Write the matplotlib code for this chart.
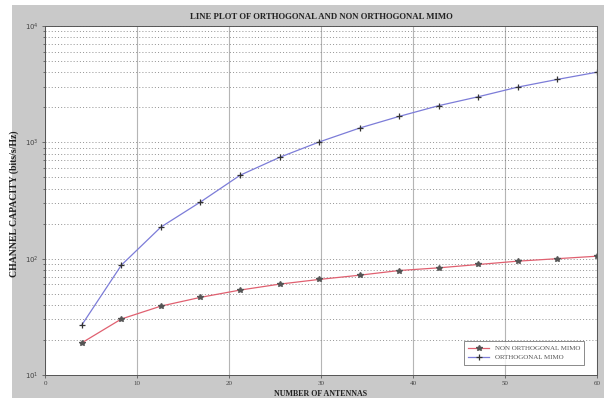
import matplotlib.pyplot as plt
import matplotlib.patches as mpatches
from matplotlib.ticker import LogLocator, NullFormatter, FixedLocator

# data
antennas = [4, 8.3, 12.6, 16.9, 21.2, 25.5, 29.8, 34.2, 38.5, 42.8, 47.1, 51.4, 55.7, 60]
non_orthogonal = [18.9, 30.3, 39.1, 46.5, 53.7, 60.4, 66.3, 72.1, 79.1, 83.4, 89.1, 95.2, 100, 105]
orthogonal = [26.9, 88, 187, 307, 521, 743, 1007, 1327, 1671, 2067, 2466, 2985, 3475, 4008]
x_ticks = [0, 10, 20, 30, 40, 50, 60]
y_ticks = [10, 100, 1000, 10000]
y_tick_labels = [r'$10^1$', r'$10^2$', r'$10^3$', r'$10^4$']

plt.rcParams['font.family'] = ['Liberation Serif', 'DejaVu Serif']

fig = plt.figure(figsize=(6.04, 3.98), dpi=100, facecolor='#c9c9c9')
# white border strip on the left/top of the screenshot
fig.patches.append(mpatches.Rectangle((0, 0), 12 / 604, 1, transform=fig.transFigure,
                                      facecolor='white', edgecolor='none', zorder=-1))
fig.patches.append(mpatches.Rectangle((0, 1 - 5 / 398), 1, 5 / 398, transform=fig.transFigure,
                                      facecolor='white', edgecolor='none', zorder=-1))

ax = fig.add_axes([45 / 604, 1 - 375 / 398, (597 - 45) / 604, (375 - 26) / 398])
ax.set_facecolor('white')

ax.set_yscale('log')
ax.set_xlim(0, 60)
ax.set_ylim(10, 10000)

# grid: solid light lines plus dotted darker lines, like the matlab export
ax.set_axisbelow(True)
ax.yaxis.set_minor_locator(LogLocator(base=10, subs=range(2, 10)))
ax.yaxis.set_minor_formatter(NullFormatter())
ax.grid(True, which='major', color='#b5b5b5', linewidth=0.8, linestyle='-')
ax.grid(True, which='minor', axis='y', color='#b0b0b0', linewidth=0.8, linestyle='-')
ax.grid(True, which='both', axis='y', color='#707070', linewidth=0.5, linestyle=(0, (1.5, 3)))

ax.plot(antennas, non_orthogonal, color='#e06070', linewidth=0.9,
        marker='*', markersize=4, markerfacecolor='#555555', markeredgecolor='#555555',
        label='NON ORTHOGONAL MIMO')
ax.plot(antennas, orthogonal, color='#7c7cd8', linewidth=0.9,
        marker='+', markersize=4, markeredgecolor='#333333', markeredgewidth=0.9,
        label='ORTHOGONAL MIMO')

ax.xaxis.set_major_locator(FixedLocator(x_ticks))
ax.set_yticks(y_ticks)
ax.set_yticklabels(y_tick_labels)
ax.tick_params(axis='both', which='both', labelsize=5, colors='#444444', length=2, width=0.5, pad=2.5)
ax.tick_params(axis='y', which='minor', length=1.5)
for sp in ax.spines.values():
    sp.set_color('#555555')
    sp.set_linewidth(0.7)

ax.set_title('LINE PLOT OF ORTHOGONAL AND NON ORTHOGONAL MIMO', fontsize=6.3,
             fontweight='bold', color='#222222', pad=5)
ax.set_xlabel('NUMBER OF ANTENNAS', fontsize=5.8, fontweight='bold', color='#222222')
ax.xaxis.set_label_coords(0.5, -15 / 349, transform=ax.transAxes)
ax.set_ylabel('CHANNEL CAPACITY (bits/s/Hz)', fontsize=7, fontweight='bold', color='#222222')
ax.yaxis.set_label_coords(-26 / 552, 0.49, transform=ax.transAxes)

leg = ax.legend(loc='lower right', fontsize=5, frameon=True, fancybox=False,
                borderpad=0.6, handlelength=3, bbox_to_anchor=(0.983, 0.02))
leg.get_frame().set_edgecolor('#555555')
leg.get_frame().set_linewidth(0.6)
for t in leg.get_texts():
    t.set_color('#555555')

fig.savefig('out.png', dpi=100, facecolor=fig.get_facecolor())
